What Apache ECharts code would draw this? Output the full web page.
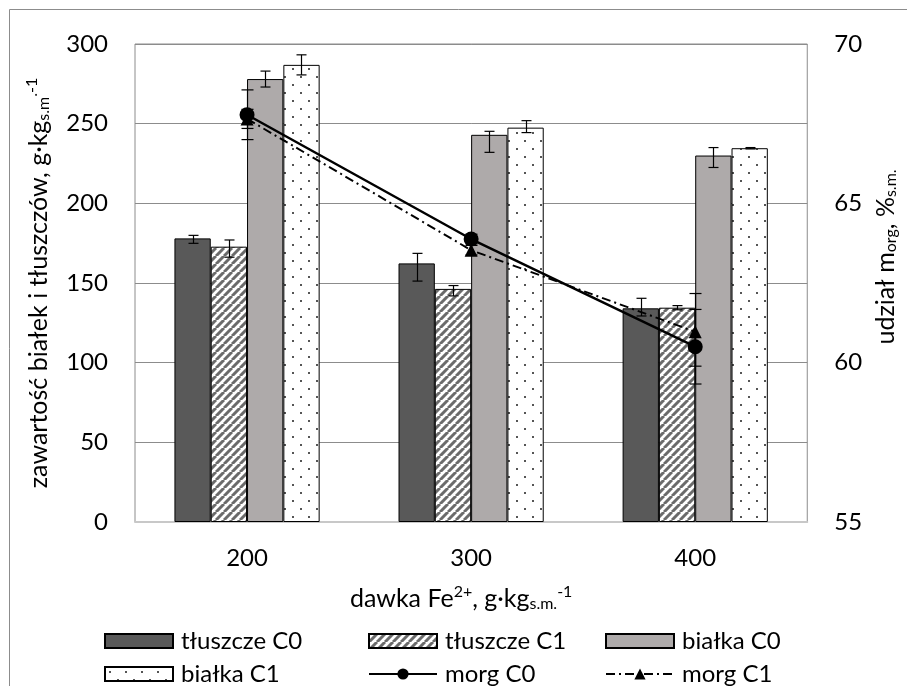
<!DOCTYPE html>
<html><head><meta charset="utf-8">
<script src="https://cdn.jsdelivr.net/npm/echarts@6/dist/echarts.min.js"></script>
<style>html,body{margin:0;padding:0;background:#fff}#c{width:907px;height:686px}</style>
</head><body><div id="c"></div>
<script>
// ---- data ----
const categories = ['200', '300', '400'];
const leftTicks = [0, 50, 100, 150, 200, 250, 300];
const rightTicks = [55, 60, 65, 70];

const tluszczeC0 = [178, 162.3, 134.1];
const tluszczeC0ErrUp = [1.9, 6.3, 6.3];
const tluszczeC0ErrDown = [3.1, 11.1, 4.8];

const tluszczeC1 = [172.8, 146.3, 134.5];
const tluszczeC1ErrUp = [4.2, 2.1, 1.3];
const tluszczeC1ErrDown = [6.6, 4.4, 1.3];

const bialkaC0 = [278, 243, 230];
const bialkaC0ErrUp = [5, 2.2, 5];
const bialkaC0ErrDown = [5, 11, 7.5];

const bialkaC1 = [286.9, 247.5, 234.6];
const bialkaC1ErrUp = [6.3, 4.4, 0.4];
const bialkaC1ErrDown = [6.3, 3.1, 0.4];

const morgC0 = [67.78, 63.88, 60.5];
const morgC0ErrUp = [0.78, 0.15, 1.17];
const morgC0ErrDown = [0.78, 0.15, 1.17];

const morgC1 = [67.65, 63.53, 60.97];
const morgC1ErrUp = [0.3, 0.15, 1.2];
const morgC1ErrDown = [0.3, 0.15, 1.08];

const legendNames = ['tłuszcze C0', 'tłuszcze C1', 'białka C0', 'białka C1', 'morg C0', 'morg C1'];

// ---- styling ----
const FONT = 'Lato';
const BAR_FRAC = 0.162;

function stripePattern() {
  const s = 8, c = document.createElement('canvas');
  c.width = s; c.height = s;
  const g = c.getContext('2d');
  g.fillStyle = '#fff'; g.fillRect(0, 0, s, s);
  g.strokeStyle = '#6b6b6b'; g.lineWidth = 3;
  g.beginPath();
  for (let k = -1; k <= 1; k++) { g.moveTo(k * s, s); g.lineTo(k * s + s, 0); }
  g.stroke();
  return c;
}
function dotPattern() {
  const c = document.createElement('canvas');
  c.width = 16; c.height = 16;
  const g = c.getContext('2d');
  g.fillStyle = '#fff'; g.fillRect(0, 0, 16, 16);
  g.fillStyle = '#555';
  g.fillRect(4, 4, 2, 2); g.fillRect(12, 12, 2, 2);
  return c;
}

const chart = echarts.init(document.getElementById('c'), null, {renderer: 'canvas'});

function errGroup(x, yHi, yLo, cw) {
  const st = {stroke: '#000', lineWidth: 1.2};
  return {type: 'group', children: [
    {type: 'line', shape: {x1: x, y1: yHi, x2: x, y2: yLo}, style: st},
    {type: 'line', shape: {x1: x - cw, y1: yHi, x2: x + cw, y2: yHi}, style: st},
    {type: 'line', shape: {x1: x - cw, y1: yLo, x2: x + cw, y2: yLo}, style: st}
  ]};
}
function barErr(idx, vals, up, down) {
  return {
    type: 'custom', xAxisIndex: 0, yAxisIndex: 0, z: 6, silent: true,
    data: vals.map((v, i) => [i, v - down[i], v + up[i]]),
    encode: {x: 0, y: [1, 2]},
    renderItem(params, api) {
      const bandW = api.size([1, 0])[0];
      const off = (idx - 1.5) * bandW * BAR_FRAC;
      const lo = api.coord([api.value(0), api.value(1)]);
      const hi = api.coord([api.value(0), api.value(2)]);
      return errGroup(Math.round(lo[0] + off) + 0.5, hi[1], lo[1], 5);
    }
  };
}
function lineErr(vals, up, down) {
  return {
    type: 'custom', xAxisIndex: 0, yAxisIndex: 1, z: 6, silent: true,
    data: vals.map((v, i) => [i, v - down[i], v + up[i]]),
    encode: {x: 0, y: [1, 2]},
    renderItem(params, api) {
      const lo = api.coord([api.value(0), api.value(1)]);
      const hi = api.coord([api.value(0), api.value(2)]);
      return errGroup(Math.round(lo[0]) + 0.5, hi[1], lo[1], 6);
    }
  };
}

const rich = {
  sub: {fontFamily: FONT, fontSize: 16, color: '#000', padding: [11, 0, 0, 0]},
  sup: {fontFamily: FONT, fontSize: 16, color: '#000', padding: [0, 0, 13, 0]}
};

const barBase = {type: 'bar', barWidth: (BAR_FRAC * 100) + '%', barGap: '0%', z: 2};

const legendPos = [[99, 624], [363, 624], [600, 624], [99, 657], [363, 657], [600, 657]];
const legends = legendNames.map((n, i) => ({
  left: legendPos[i][0], top: legendPos[i][1], orient: 'horizontal',
  itemWidth: 68, itemHeight: 14, selectedMode: false,
  data: [i < 4 ? {name: n, icon: 'rect'} : {name: n}],
  textStyle: {fontFamily: FONT, fontSize: 24, color: '#000', padding: [0, 0, 0, 3]}
}));

chart.setOption({
  animation: false,
  backgroundColor: '#fff',
  graphic: [{type: 'rect', silent: true, z: -10,
    shape: {x: 9.5, y: 9.5, width: 1000, height: 1000},
    style: {fill: 'none', stroke: '#8c8c8c', lineWidth: 1}}],
  grid: {left: 135, right: 86, top: 44, bottom: 164, show: true, borderColor: '#8c8c8c', borderWidth: 1},
  legend: legends,
  xAxis: {
    type: 'category', data: categories,
    axisLine: {lineStyle: {color: '#c8c8c8', width: 2}},
    axisTick: {show: false},
    axisLabel: {fontFamily: FONT, fontSize: 24, color: '#000', margin: 24},
    name: 'dawka Fe{sup|2+}, g·kg{sub|s.m.}{sup|-1}',
    nameLocation: 'middle', nameGap: 62,
    nameTextStyle: {fontFamily: FONT, fontSize: 25, color: '#000', rich: rich, padding: [0, 20, 0, 0]}
  },
  yAxis: [{
    type: 'value', min: 0, max: 300, interval: 50,
    axisLine: {show: false}, axisTick: {show: false},
    splitLine: {lineStyle: {color: '#8c8c8c', width: 1}},
    axisLabel: {fontFamily: FONT, fontSize: 24, color: '#000', margin: 27,
      formatter: v => leftTicks.includes(v) ? String(v) : ''},
    name: 'zawartość białek i tłuszczów, g·kg{sub|s.m}{sup|.-1}',
    nameLocation: 'middle', nameGap: 82, nameRotate: 90,
    nameTextStyle: {fontFamily: FONT, fontSize: 25, color: '#000', rich: rich}
  }, {
    type: 'value', min: 55, max: 70, interval: 5, position: 'right',
    axisLine: {show: false}, axisTick: {show: false}, splitLine: {show: false},
    axisLabel: {fontFamily: FONT, fontSize: 24, color: '#000', margin: 27,
      formatter: v => rightTicks.includes(v) ? String(v) : ''},
    name: 'udział m{sub|org}, %{sub|s.m.}',
    nameLocation: 'middle', nameGap: 54, nameRotate: 90,
    nameTextStyle: {fontFamily: FONT, fontSize: 25, color: '#000', rich: rich, padding: [0, 0, 0, 52]}
  }],
  series: [
    Object.assign({}, barBase, {name: 'tłuszcze C0', data: tluszczeC0,
      itemStyle: {color: '#595959', borderColor: '#000', borderWidth: 1}}),
    Object.assign({}, barBase, {name: 'tłuszcze C1', data: tluszczeC1,
      itemStyle: {color: {image: stripePattern(), repeat: 'repeat'}, borderColor: '#000', borderWidth: 1}}),
    Object.assign({}, barBase, {name: 'białka C0', data: bialkaC0,
      itemStyle: {color: '#aeaaaa', borderColor: '#000', borderWidth: 1}}),
    Object.assign({}, barBase, {name: 'białka C1', data: bialkaC1,
      itemStyle: {color: {image: dotPattern(), repeat: 'repeat'}, borderColor: '#000', borderWidth: 1}}),
    {type: 'line', name: 'morg C0', yAxisIndex: 1, data: morgC0, z: 4,
      symbol: 'circle', symbolSize: 15,
      itemStyle: {color: '#000'}, lineStyle: {color: '#000', width: 2.5}},
    {type: 'line', name: 'morg C1', yAxisIndex: 1, data: morgC1, z: 4,
      symbol: 'triangle', symbolSize: 13,
      itemStyle: {color: '#000'}, lineStyle: {color: '#000', width: 2, type: [9, 4, 2, 4]}},
    barErr(0, tluszczeC0, tluszczeC0ErrUp, tluszczeC0ErrDown),
    barErr(1, tluszczeC1, tluszczeC1ErrUp, tluszczeC1ErrDown),
    barErr(2, bialkaC0, bialkaC0ErrUp, bialkaC0ErrDown),
    barErr(3, bialkaC1, bialkaC1ErrUp, bialkaC1ErrDown),
    lineErr(morgC0, morgC0ErrUp, morgC0ErrDown),
    lineErr(morgC1, morgC1ErrUp, morgC1ErrDown)
  ]
});
</script></body></html>
